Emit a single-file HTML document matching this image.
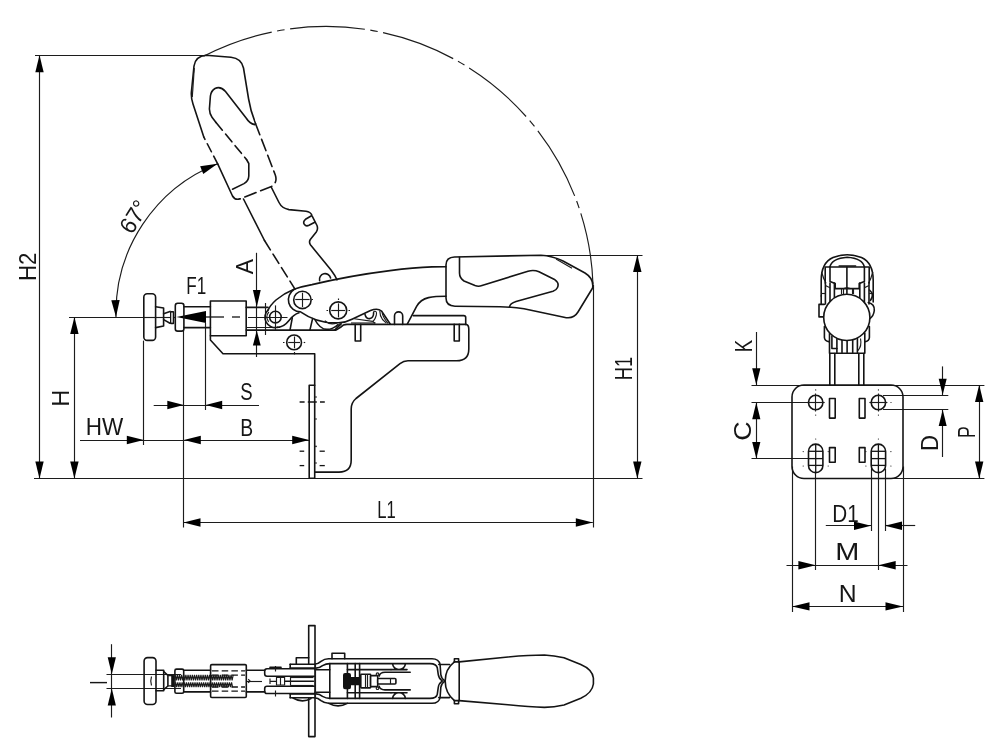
<!DOCTYPE html>
<html><head><meta charset="utf-8"><title>Clamp drawing</title>
<style>
html,body{margin:0;padding:0;background:#fff;}
body{width:1000px;height:754px;overflow:hidden;}
svg{display:block;filter:grayscale(1);}
.o{stroke:#141414;stroke-width:1.6;fill:none;stroke-linecap:round;stroke-linejoin:round;}
.of{stroke:#141414;stroke-width:1.6;fill:#fff;stroke-linecap:round;stroke-linejoin:round;}
.t{stroke:#1c1c1c;stroke-width:1.15;fill:none;}
.d{stroke:#141414;stroke-width:1.3;fill:none;}
.a{fill:#000;stroke:none;}
.k{fill:#111;stroke:none;}
text{font-family:"Liberation Sans",sans-serif;fill:#161616;}
</style></head><body>
<svg width="1000" height="754" viewBox="0 0 1000 754">
<rect x="0" y="0" width="1000" height="754" fill="#fff"/>
<g id="dims-main">
<line class="t" x1="35.00" y1="55.50" x2="203.00" y2="55.50"/>
<line class="t" x1="39.50" y1="55.50" x2="39.50" y2="478.40"/>
<polygon class="a" points="39.50,55.30 43.70,72.30 35.30,72.30"/>
<polygon class="a" points="39.50,478.40 35.30,461.40 43.70,461.40"/>
<text x="35.60" y="266.75" font-size="23.6" text-anchor="middle" transform="rotate(-90 35.60 266.75)" textLength="28.6" lengthAdjust="spacingAndGlyphs">H2</text>
<line class="t" x1="34.00" y1="478.50" x2="642.50" y2="478.50"/>
<line class="t" x1="69.00" y1="317.50" x2="144.00" y2="317.50"/>
<line class="t" x1="74.50" y1="317.00" x2="74.50" y2="478.40"/>
<polygon class="a" points="74.40,317.00 78.60,334.00 70.20,334.00"/>
<polygon class="a" points="74.40,478.40 70.20,461.40 78.60,461.40"/>
<text x="69.40" y="398.25" font-size="23.6" text-anchor="middle" transform="rotate(-90 69.40 398.25)" textLength="17.0" lengthAdjust="spacingAndGlyphs">H</text>
<line class="t" x1="80.00" y1="440.50" x2="309.20" y2="440.50"/>
<polygon class="a" points="143.80,440.00 126.80,444.20 126.80,435.80"/>
<polygon class="a" points="183.80,440.00 200.80,435.80 200.80,444.20"/>
<polygon class="a" points="309.20,440.00 292.20,444.20 292.20,435.80"/>
<text x="104.50" y="435.25" font-size="23.6" text-anchor="middle" textLength="37.5" lengthAdjust="spacingAndGlyphs">HW</text>
<text x="246.80" y="435.70" font-size="23.6" text-anchor="middle" textLength="12.9" lengthAdjust="spacingAndGlyphs">B</text>
<line class="t" x1="143.50" y1="340.60" x2="143.50" y2="445.00"/>
<line class="t" x1="183.50" y1="331.00" x2="183.50" y2="527.50"/>
<line class="t" x1="153.70" y1="405.50" x2="259.00" y2="405.50"/>
<polygon class="a" points="183.80,405.00 167.30,409.20 167.30,400.80"/>
<polygon class="a" points="205.70,405.00 222.20,400.80 222.20,409.20"/>
<text x="246.55" y="400.40" font-size="23.6" text-anchor="middle" textLength="12.4" lengthAdjust="spacingAndGlyphs">S</text>
<line class="t" x1="205.50" y1="323.00" x2="205.50" y2="410.00"/>
<line class="t" x1="183.50" y1="522.50" x2="592.80" y2="522.50"/>
<polygon class="a" points="183.50,522.50 200.50,518.30 200.50,526.70"/>
<polygon class="a" points="592.80,522.50 575.80,526.70 575.80,518.30"/>
<text x="386.45" y="517.90" font-size="23.6" text-anchor="middle" textLength="18.5" lengthAdjust="spacingAndGlyphs">L1</text>
<line class="t" x1="593.50" y1="285.00" x2="593.50" y2="527.50"/>
<line class="t" x1="545.00" y1="255.50" x2="642.50" y2="255.50"/>
<line class="t" x1="637.50" y1="255.00" x2="637.50" y2="478.40"/>
<polygon class="a" points="637.30,255.00 641.50,272.00 633.10,272.00"/>
<polygon class="a" points="637.30,478.40 633.10,461.40 641.50,461.40"/>
<text x="632.50" y="368.45" font-size="23.6" text-anchor="middle" transform="rotate(-90 632.50 368.45)" textLength="23.6" lengthAdjust="spacingAndGlyphs">H1</text>
<line class="t" x1="256.50" y1="252.80" x2="256.50" y2="357.00"/>
<polygon class="a" points="256.80,307.00 252.90,290.00 260.70,290.00"/>
<polygon class="a" points="256.80,330.40 260.70,345.40 252.90,345.40"/>
<text x="252.80" y="266.60" font-size="23.6" text-anchor="middle" transform="rotate(-90 252.80 266.60)" textLength="15.2" lengthAdjust="spacingAndGlyphs">A</text>
<text x="196.25" y="293.50" font-size="23.6" text-anchor="middle" textLength="20.0" lengthAdjust="spacingAndGlyphs">F1</text>
<polygon class="a" points="176.4,317 206,311 206,323"/>
<path class="t" d="M116,317 A160.5,160.5 0 0 1 217.5,163.8"/>
<polygon class="a" points="116.00,317.00 111.29,300.13 119.69,299.88"/>
<polygon class="a" points="217.50,163.80 203.26,173.99 200.15,166.18"/>
<text x="140.90" y="221.00" font-size="23.6" text-anchor="middle" transform="rotate(-58 140.90 221.00)" textLength="33.5" lengthAdjust="spacingAndGlyphs">67°</text>
<path class="t" d="M203.5,56.3 A267,267 0 0 1 593,284.5" stroke-dasharray="75 5.5 7.5 5.5" stroke-dashoffset="2.25"/>
</g>
<g id="clamp">
<line class="t" x1="144.00" y1="317.50" x2="176.00" y2="317.50"/>
<line class="d" x1="206.00" y1="317.00" x2="224.00" y2="317.00"/>
<line class="d" x1="232.00" y1="317.00" x2="240.00" y2="317.00"/>
<line class="t" x1="248.00" y1="317.50" x2="287.50" y2="317.50"/>
<rect class="o" x="143.80" y="293.80" width="11.80" height="46.60" rx="3.40"/>
<path class="o" d="M155.6,306.8 L163.6,308 V326 L155.6,327.6"/>
<path class="o" d="M163.6,313.8 L170,311.4 M163.6,319.6 L170,323.2"/>
<rect class="k" x="170.00" y="310.90" width="4.20" height="13.40" rx="1.00"/>
<rect x="171.3" y="312.6" width="1.4" height="10" fill="#fff"/>
<rect class="o" x="175.30" y="303.30" width="8.60" height="27.80" rx="2.40"/>
<line class="o" x1="184.00" y1="306.80" x2="210.40" y2="306.80" stroke-width="2"/>
<line class="o" x1="184.00" y1="327.60" x2="210.40" y2="327.60" stroke-width="2"/>
<rect class="o" x="210.40" y="301.00" width="35.80" height="34.80" rx="0.00"/>
<line class="o" x1="246.20" y1="307.40" x2="268.00" y2="307.40"/>
<line class="t" x1="246.20" y1="327.50" x2="280.00" y2="327.50"/>
<line class="t" x1="265.50" y1="303.00" x2="265.50" y2="335.00"/>
<path class="o" d="M210.4,335.8 V340 L223,353.7 H314.7 V385.2"/>
<path class="o" d="M246.2,330.1 H336 L341,327 Q343,324.4 347,324.4 H465.7"/>
<path class="o" d="M309.2,385.2 H314.7 V478.3 H309.2 Z"/>
<line class="d" x1="299.60" y1="402.00" x2="324.80" y2="402.00" stroke-dasharray="5 3.2 9 3.2 5"/>
<line class="d" x1="299.60" y1="451.20" x2="304.20" y2="451.20"/>
<line class="d" x1="319.60" y1="451.20" x2="324.80" y2="451.20"/>
<line class="d" x1="299.60" y1="465.60" x2="304.20" y2="465.60"/>
<line class="d" x1="319.60" y1="465.60" x2="324.80" y2="465.60"/>
<circle class="k" cx="316" cy="397.0" r="0.8"/>
<circle class="k" cx="316" cy="419.0" r="0.8"/>
<circle class="k" cx="316" cy="446.4" r="0.8"/>
<circle class="k" cx="316" cy="463.0" r="0.8"/>
<path class="o" d="M465.7,324.4 Q468.8,324.6 468.8,329 V349 Q468.8,360.8 456.5,360.8 H408 Q403.5,360.8 400,363.6 L356,398.5 Q351.2,402.5 351.2,409 V460 Q351.2,472.1 339,472.1 H314.7"/>
<path class="o" d="M413.2,315.6 H463.7 Q465.7,315.6 465.7,317.6 V324.4"/>
<path class="o" d="M355.2,324.4 V341 H360.7 V324.4"/>
<path class="o" d="M454.2,324.4 V341 H459.3 V324.4"/>
<path class="o" d="M394.5,324.4 V316 A4.1,4.1 0 0 1 402.7,316 V324.4"/>
<circle class="o" cx="294.10" cy="342.40" r="7.40"/>
<line class="t" x1="288.20" y1="342.50" x2="300.00" y2="342.50"/>
<line class="t" x1="294.50" y1="336.50" x2="294.50" y2="348.30"/>
<line class="t" x1="283.00" y1="342.50" x2="284.50" y2="342.50"/>
<line class="t" x1="303.70" y1="342.50" x2="305.20" y2="342.50"/>
<line class="t" x1="294.50" y1="352.00" x2="294.50" y2="354.50"/>
<circle class="o" cx="275.40" cy="317.10" r="5.80"/>
<path class="o" d="M268.2,309.9 A10.2,10.2 0 0 0 277.5,327.3"/>
<path class="t" d="M268.9,311.9 A8.3,8.3 0 0 0 268.6,321.9"/>
<line class="t" x1="275.50" y1="305.40" x2="275.50" y2="330.00"/>
<path class="o" d="M268.2,309.9 Q270,305.5 276,300 Q284,293.4 294,289.3 Q302,286.4 312,284.6 Q350,275.6 390,270.6 Q414,267.6 432,266.9 L446,266.8"/>
<path class="o" d="M407.3,324.2 L416.6,306.4 Q420.4,299.6 428.5,297.6 Q435,296.3 446,296.3"/>
<circle class="o" cx="302.40" cy="299.90" r="8.70"/>
<line class="t" x1="295.20" y1="299.50" x2="309.60" y2="299.50"/>
<line class="t" x1="302.50" y1="292.70" x2="302.50" y2="307.10"/>
<path class="o" d="M294.3,289.3 A12.1,12.1 0 0 0 300.5,311.8 Q318,324 338.5,322.8 Q346,322.4 352,319.2 L370.5,310.6 Q377.5,307.6 381.5,311 L390.2,324"/>
<line class="t" x1="311.50" y1="299.50" x2="313.00" y2="299.50"/>
<circle class="o" cx="338.20" cy="310.40" r="8.50"/>
<line class="t" x1="331.20" y1="310.50" x2="345.20" y2="310.50"/>
<line class="t" x1="338.50" y1="303.40" x2="338.50" y2="317.40"/>
<line class="t" x1="326.50" y1="310.50" x2="328.00" y2="310.50"/>
<line class="t" x1="348.50" y1="310.50" x2="350.00" y2="310.50"/>
<line class="t" x1="338.50" y1="298.50" x2="338.50" y2="300.00"/>
<path class="o" d="M277.5,327.4 Q284,327 289,320.5 Q293.5,314.5 299,312.8"/>
<line class="o" x1="292.30" y1="317.80" x2="290.00" y2="330.10"/>
<line class="o" x1="312.60" y1="318.60" x2="309.90" y2="330.10"/>
<path class="o" d="M314.8,319.5 Q320,329.4 327,329.4 Q333,329.4 338,324.5"/>
<path class="t" d="M324.7,320.8 Q330,325.5 337,322.9"/>
<path class="o" d="M334.6,330.1 L341.2,323.8"/>
<path class="o" d="M365,314.3 Q366,319 370,318.6 Q373.8,317.6 373.6,312.6"/>
<path class="t" d="M373.4,311.6 Q377.4,310.2 376.3,315 Q375,320 372.6,321.4 L375.2,323.2"/>
<path class="t" d="M354.2,318.7 L372.6,321.4"/>
<path class="t" d="M351,323 H375.4"/>
<path class="t" d="M379.8,311 Q379.8,316 382.5,319.5 L386.4,323.2"/>
<path class="t" d="M382.2,313 Q382.8,317 388,323.4"/>
<path class="t" d="M335,327 Q338.5,326.2 340.6,323"/>
<path class="o" d="M446,265 Q446,257.3 454.5,257 L541,255.2 Q552,255.6 563,261 L585,273 Q594,278.5 592.6,288 L578,312 Q573.5,319.5 564,317.2 L524,308.8 Q514,307 500,306.8 L455,306.2 Q446,306 446,298 Z"/>
<path class="o" d="M459.5,257.2 V273 Q459.5,278 464,281 L475,285.6 Q478.5,286.8 482,285.6 L528,271.2 Q534,269.6 539,271.8 L555,279.8 Q559.5,283 557.5,287.5 Q556.5,290 553,291.2 L516,301.6 Q510,303.5 509.5,307"/>
<path class="t" d="M556,259 L572,268.2"/>
<path class="o" d="M217.8,164.2 L232.5,196 Q235,200.5 240,198.8"/>
<path class="o" d="M203.8,137 L193,104 Q190.6,97 191.6,90 L194,66 Q195.5,56 206,55.2 L231,57.2 Q241.5,58.3 243.5,68 L248.6,99 Q250.5,111 255.5,123.5"/>
<path class="t" d="M194.3,68 L192.3,97"/>
<path class="o" d="M217.8,164.2 L203.8,137" stroke-dasharray="9 5"/>
<path class="o" d="M255.5,123.5 L275.3,175 Q277.8,182.5 271.5,186.5 L240,198.8" stroke-dasharray="12 5"/>
<path class="o" d="M254.8,124.6 Q249.5,123.5 246.5,118.5 L225.5,91.5 Q220.5,85.8 215,88.5 Q211,91 210.4,96 L209.4,109 Q209.6,114 212,117.2 L216,122.5"/>
<path class="o" d="M216,122.5 L246.5,159.5" stroke-dasharray="10 5"/>
<path class="o" d="M246.5,159.5 L248.8,163.5 V176 Q248.6,181 244,183.6 L232.5,189.2"/>
<path class="o" d="M271.2,187 L279,202.5 Q282,208.5 289,209.6 L306,211.2 Q310.5,211.8 311.8,215"/>
<path class="o" d="M311.5,215.8 L305.5,219.3 Q302.6,221.6 304.3,224.3 Q306,226.8 309,225.3 L314.8,222.2"/>
<path class="o" d="M312.3,216.3 L317,225.5 Q318.3,229 316.3,232 L310.3,239.5 Q308.6,242.2 310.6,245 L331,270 Q335,275.3 337,279.8"/>
<path class="o" d="M319.6,280.6 A5.6,5.6 0 0 1 330.6,278"/>
<path class="o" d="M243.5,199 L264.5,240.5"/>
<path class="o" d="M264.5,240.5 L295,289.2" stroke-dasharray="11 5"/>
</g>
<g id="right-view">
<line class="t" x1="751.50" y1="385.50" x2="984.40" y2="385.50"/>
<line class="t" x1="890.00" y1="478.50" x2="984.40" y2="478.50"/>
<line class="t" x1="751.50" y1="402.50" x2="808.50" y2="402.50"/>
<line class="t" x1="751.50" y1="458.50" x2="808.50" y2="458.50"/>
<line class="t" x1="756.50" y1="332.00" x2="756.50" y2="385.00"/>
<polygon class="a" points="756.30,385.00 752.20,368.30 760.40,368.30"/>
<line class="t" x1="756.50" y1="402.50" x2="756.50" y2="458.60"/>
<polygon class="a" points="756.30,402.50 760.40,419.20 752.20,419.20"/>
<polygon class="a" points="756.30,458.60 752.20,441.90 760.40,441.90"/>
<text x="751.80" y="346.00" font-size="23.6" text-anchor="middle" transform="rotate(-90 751.80 346.00)" textLength="12.4" lengthAdjust="spacingAndGlyphs">K</text>
<text x="751.40" y="431.15" font-size="23.6" text-anchor="middle" transform="rotate(-90 751.40 431.15)" textLength="19.4" lengthAdjust="spacingAndGlyphs">C</text>
<line class="t" x1="883.00" y1="395.50" x2="948.30" y2="395.50"/>
<line class="t" x1="883.00" y1="409.50" x2="948.30" y2="409.50"/>
<line class="t" x1="942.50" y1="366.40" x2="942.50" y2="395.30"/>
<line class="t" x1="942.50" y1="409.30" x2="942.50" y2="457.00"/>
<polygon class="a" points="942.70,394.80 938.70,378.80 946.70,378.80"/>
<polygon class="a" points="942.70,409.80 946.70,426.00 938.70,426.00"/>
<text x="938.00" y="442.95" font-size="23.6" text-anchor="middle" transform="rotate(-90 938.00 442.95)" textLength="16.0" lengthAdjust="spacingAndGlyphs">D</text>
<line class="t" x1="979.50" y1="385.00" x2="979.50" y2="478.50"/>
<polygon class="a" points="979.20,385.00 983.40,402.00 975.00,402.00"/>
<polygon class="a" points="979.20,478.50 975.00,461.50 983.40,461.50"/>
<text x="975.00" y="432.20" font-size="23.6" text-anchor="middle" transform="rotate(-90 975.00 432.20)" textLength="11.7" lengthAdjust="spacingAndGlyphs">P</text>
<line class="t" x1="792.50" y1="466.50" x2="792.50" y2="612.00"/>
<line class="t" x1="903.50" y1="466.50" x2="903.50" y2="612.00"/>
<line class="t" x1="815.50" y1="473.00" x2="815.50" y2="570.00"/>
<line class="t" x1="878.50" y1="473.00" x2="878.50" y2="570.00"/>
<line class="t" x1="871.50" y1="469.00" x2="871.50" y2="531.00"/>
<line class="t" x1="885.50" y1="469.00" x2="885.50" y2="531.00"/>
<line class="t" x1="825.80" y1="525.50" x2="871.00" y2="525.50"/>
<line class="t" x1="885.00" y1="525.50" x2="915.20" y2="525.50"/>
<polygon class="a" points="871.00,525.80 854.00,530.00 854.00,521.60"/>
<polygon class="a" points="885.00,525.80 902.00,521.60 902.00,530.00"/>
<text x="845.45" y="521.70" font-size="23.6" text-anchor="middle" textLength="26.5" lengthAdjust="spacingAndGlyphs">D1</text>
<line class="t" x1="786.50" y1="565.50" x2="907.50" y2="565.50"/>
<polygon class="a" points="815.70,565.20 798.40,569.40 798.40,561.00"/>
<polygon class="a" points="878.40,565.20 895.70,561.00 895.70,569.40"/>
<text x="847.40" y="560.40" font-size="23.6" text-anchor="middle" textLength="24.1" lengthAdjust="spacingAndGlyphs">M</text>
<line class="t" x1="792.00" y1="606.50" x2="903.00" y2="606.50"/>
<polygon class="a" points="792.00,606.40 809.50,602.20 809.50,610.60"/>
<polygon class="a" points="903.00,606.40 885.50,610.60 885.50,602.20"/>
<text x="847.60" y="602.10" font-size="23.6" text-anchor="middle" textLength="17.9" lengthAdjust="spacingAndGlyphs">N</text>
<rect class="o" x="792.00" y="385.00" width="111.00" height="93.50" rx="12.00"/>
<circle class="o" cx="815.70" cy="402.50" r="7.20"/>
<line class="t" x1="806.70" y1="402.50" x2="824.70" y2="402.50"/>
<line class="t" x1="815.50" y1="393.50" x2="815.50" y2="411.50"/>
<path class="o" d="M808.50,451.3 A7.2,7.2 0 0 1 822.90,451.3 V465.4 A7.2,7.2 0 0 1 808.50,465.4 Z"/>
<line class="d" x1="815.70" y1="444.00" x2="815.70" y2="472.60"/>
<line class="d" x1="808.50" y1="451.30" x2="822.90" y2="451.30"/>
<line class="d" x1="808.50" y1="458.60" x2="822.90" y2="458.60"/>
<line class="d" x1="808.50" y1="465.40" x2="822.90" y2="465.40"/>
<circle class="k" cx="815.70" cy="389.90" r="0.6"/>
<circle class="k" cx="815.70" cy="415.10" r="0.6"/>
<circle class="k" cx="815.70" cy="439.00" r="0.6"/>
<circle class="o" cx="878.40" cy="402.50" r="7.20"/>
<line class="t" x1="869.40" y1="402.50" x2="887.40" y2="402.50"/>
<line class="t" x1="878.50" y1="393.50" x2="878.50" y2="411.50"/>
<path class="o" d="M871.20,451.3 A7.2,7.2 0 0 1 885.60,451.3 V465.4 A7.2,7.2 0 0 1 871.20,465.4 Z"/>
<line class="d" x1="878.40" y1="444.00" x2="878.40" y2="472.60"/>
<line class="d" x1="871.20" y1="451.30" x2="885.60" y2="451.30"/>
<line class="d" x1="871.20" y1="458.60" x2="885.60" y2="458.60"/>
<line class="d" x1="871.20" y1="465.40" x2="885.60" y2="465.40"/>
<circle class="k" cx="878.40" cy="389.90" r="0.6"/>
<circle class="k" cx="878.40" cy="415.10" r="0.6"/>
<circle class="k" cx="878.40" cy="439.00" r="0.6"/>
<circle class="k" cx="803.20" cy="451.60" r="0.6"/>
<circle class="k" cx="865.90" cy="451.60" r="0.6"/>
<circle class="k" cx="803.20" cy="466.00" r="0.6"/>
<circle class="k" cx="865.90" cy="466.00" r="0.6"/>
<circle class="k" cx="828.20" cy="451.60" r="0.6"/>
<circle class="k" cx="890.90" cy="451.60" r="0.6"/>
<circle class="k" cx="828.20" cy="466.00" r="0.6"/>
<circle class="k" cx="890.90" cy="466.00" r="0.6"/>
<circle class="k" cx="891" cy="402.5" r="0.6"/>
<rect class="o" x="829.50" y="398.50" width="5.70" height="19.60" rx="0.00"/>
<rect class="o" x="859.30" y="398.50" width="5.70" height="19.60" rx="0.00"/>
<rect class="o" x="829.50" y="447.60" width="5.70" height="14.60" rx="0.00"/>
<rect class="o" x="859.30" y="447.60" width="5.70" height="14.60" rx="0.00"/>
<line class="o" x1="829.80" y1="353.50" x2="829.80" y2="385.00"/>
<line class="o" x1="834.80" y1="353.50" x2="834.80" y2="385.00"/>
<line class="o" x1="858.80" y1="353.50" x2="858.80" y2="385.00"/>
<line class="o" x1="863.80" y1="353.50" x2="863.80" y2="385.00"/>
</g>
<g id="right-handle">
<path class="o" d="M821.2,296 V281 Q821,263 833,257.6 Q847,252 861.5,257.6 Q873.4,263 873.2,281 V296"/>
<path class="o" d="M829.8,267 Q832,258.3 847.2,257.2 Q862.5,258.3 864.4,267"/>
<path class="t" d="M821.6,272 Q823.5,279 826,283"/>
<path class="t" d="M872.8,272 Q871,279 868.6,283"/>
<path class="o" d="M825.2,283 V267 H869.2 V283"/>
<line class="o" x1="839.20" y1="266.00" x2="855.60" y2="266.00" stroke-width="2"/>
<path class="o" d="M830,267 V281.5 L835.2,283.6 V288.6 H859.2 V283.6 L864.4,281.5 V267"/>
<line class="o" x1="846.90" y1="267.00" x2="846.90" y2="293.50"/>
<path class="t" d="M843.5,288.6 L846.9,287.6 L850.3,288.6"/>
<line class="t" x1="841.50" y1="288.60" x2="841.50" y2="294.00"/>
<line class="t" x1="843.50" y1="288.60" x2="843.50" y2="294.00"/>
<line class="t" x1="852.50" y1="288.60" x2="852.50" y2="294.00"/>
<line class="t" x1="853.50" y1="288.60" x2="853.50" y2="294.00"/>
<line class="o" x1="825.40" y1="283.00" x2="825.40" y2="304.00"/>
<line class="o" x1="830.00" y1="283.00" x2="830.00" y2="304.00"/>
<line class="o" x1="834.40" y1="283.00" x2="834.40" y2="304.00"/>
<line class="o" x1="859.80" y1="283.00" x2="859.80" y2="304.00"/>
<line class="o" x1="864.40" y1="283.00" x2="864.40" y2="304.00"/>
<line class="o" x1="869.00" y1="283.00" x2="869.00" y2="304.00"/>
<line class="o" x1="821.20" y1="296.00" x2="821.20" y2="304.00"/>
<line class="o" x1="873.20" y1="296.00" x2="873.20" y2="302.00"/>
<path class="t" d="M825.4,285.5 L830,287.8"/>
<path class="t" d="M869,285.5 L864.4,287.8"/>
<path class="t" d="M821.2,293.5 H825.4"/>
<path class="t" d="M873.2,293.5 H869"/>
<path class="o" d="M869.5,290 Q874.8,294.5 870.4,300.5"/>
<path class="o" d="M868.3,302.5 Q874.8,304 874.3,310.5 Q873.6,316 870,318.5"/>
<path class="o" d="M824.3,304.4 H819 V316.9 H823.8"/>
<path class="o" d="M824.4,326.5 V337.5 Q824.6,341 828.8,341.6"/>
<path class="o" d="M869.4,326.5 V337.5 Q869.2,341 865.4,341.6"/>
<path class="o" d="M829.5,333 V353.2 H864.8 V333"/>
<path class="o" d="M831.9,336 V348.5 H836.9"/>
<line class="o" x1="836.90" y1="338.00" x2="836.90" y2="352.40"/>
<line class="o" x1="842.00" y1="338.00" x2="842.00" y2="352.40"/>
<line class="o" x1="847.10" y1="338.00" x2="847.10" y2="352.40"/>
<line class="o" x1="852.70" y1="338.00" x2="852.70" y2="352.40"/>
<line class="o" x1="857.40" y1="338.00" x2="857.40" y2="352.40"/>
<path class="t" d="M860.5,338.5 Q862,346 858,350.5"/>
<circle class="of" cx="846.80" cy="317.40" r="23.10"/>
</g>
<g id="plan-view">
<line class="t" x1="111.50" y1="644.20" x2="111.50" y2="717.50"/>
<polygon class="a" points="111.80,674.20 107.70,657.20 115.90,657.20"/>
<polygon class="a" points="111.80,688.40 115.90,705.40 107.70,705.40"/>
<line class="t" x1="106.50" y1="674.50" x2="181.00" y2="674.50"/>
<line class="t" x1="106.50" y1="688.50" x2="181.00" y2="688.50"/>
<text x="107.20" y="682.50" font-size="23.6" text-anchor="middle" transform="rotate(-90 107.20 682.50)" textLength="4.3" lengthAdjust="spacingAndGlyphs">I</text>
<rect class="o" x="144.10" y="657.60" width="11.90" height="46.90" rx="3.50"/>
<path class="t" d="M151.5,676.5 Q150,681 151.5,685.5"/>
<path class="o" d="M156,670.2 H163.7 V690.8 H156"/>
<path class="o" d="M163.7,671.5 L167.9,675.3 V686 L163.7,689.6"/>
<path class="t" d="M167.9,675.6 H172 M167.9,685.8 H172"/>
<rect class="o" x="174.90" y="669.10" width="8.80" height="24.20" rx="1.60"/>
<line class="o" x1="183.70" y1="670.20" x2="210.60" y2="670.20"/>
<line class="o" x1="183.70" y1="691.90" x2="210.60" y2="691.90"/>
<line class="o" x1="246.30" y1="670.20" x2="264.70" y2="670.20"/>
<line class="o" x1="246.30" y1="691.90" x2="264.70" y2="691.90"/>
<path class="t" d="M173.00,674.80 L174.07,680.40 L175.15,674.80 L176.22,680.40 L177.30,674.80 L178.37,680.40 L179.45,674.80 L180.52,680.40 L181.60,674.80 L182.67,680.40 L183.75,674.80 L184.82,680.40 L185.90,674.80 L186.97,680.40 L188.05,674.80 L189.12,680.40 L190.20,674.80 L191.27,680.40 L192.35,674.80 L193.42,680.40 L194.50,674.80 L195.57,680.40 L196.65,674.80 L197.72,680.40 L198.80,674.80 L199.87,680.40 L200.95,674.80 L202.02,680.40 L203.10,674.80 L204.17,680.40 L205.25,674.80 L206.32,680.40 L207.40,674.80 L208.47,680.40 L209.55,674.80 L210.62,680.40 L211.70,674.80 L212.77,680.40 L213.85,674.80 L214.92,680.40 L216.00,674.80 L217.07,680.40 L218.15,674.80 L219.22,680.40 L220.30,674.80 L221.37,680.40 L222.45,674.80 L223.52,680.40 L224.60,674.80 L225.67,680.40 L226.75,674.80 L227.82,680.40 L228.90,674.80 L229.97,680.40 L231.05,674.80 L232.12,680.40 L233.20,674.80" stroke-width="0.8"/>
<path class="t" d="M173.50,682.40 L174.57,687.20 L175.65,682.40 L176.72,687.20 L177.80,682.40 L178.87,687.20 L179.95,682.40 L181.02,687.20 L182.10,682.40 L183.17,687.20 L184.25,682.40 L185.32,687.20 L186.40,682.40 L187.47,687.20 L188.55,682.40 L189.62,687.20 L190.70,682.40 L191.77,687.20 L192.85,682.40 L193.92,687.20 L195.00,682.40 L196.07,687.20 L197.15,682.40 L198.22,687.20 L199.30,682.40 L200.37,687.20 L201.45,682.40 L202.52,687.20 L203.60,682.40 L204.67,687.20 L205.75,682.40 L206.82,687.20 L207.90,682.40 L208.97,687.20 L210.05,682.40 L211.12,687.20 L212.20,682.40 L213.27,687.20 L214.35,682.40 L215.42,687.20 L216.50,682.40 L217.57,687.20 L218.65,682.40 L219.72,687.20 L220.80,682.40 L221.87,687.20 L222.95,682.40 L224.02,687.20 L225.10,682.40 L226.17,687.20 L227.25,682.40 L228.32,687.20 L229.40,682.40 L230.47,687.20 L231.55,682.40 L232.62,687.20" stroke-width="1.15"/>
<rect class="k" x="171.20" y="675.00" width="2.80" height="12.00" rx="0.50"/>
<rect class="o" x="210.60" y="664.60" width="35.70" height="32.90" rx="1.20"/>
<line class="d" x1="212.00" y1="670.90" x2="245.00" y2="670.90" stroke-dasharray="6.5 3.2"/>
<line class="d" x1="212.00" y1="675.10" x2="245.00" y2="675.10" stroke-dasharray="6.5 3.2"/>
<line class="d" x1="212.00" y1="687.00" x2="245.00" y2="687.00" stroke-dasharray="6.5 3.2"/>
<line class="d" x1="212.00" y1="691.20" x2="245.00" y2="691.20" stroke-dasharray="6.5 3.2"/>
<line class="t" x1="247.00" y1="681.50" x2="262.00" y2="681.50"/>
<path class="t" d="M248.2,679.2 L250,681 L248.2,682.8"/>
<path class="o" d="M314.4,668.7 H267 Q264.7,668.7 264.7,671 V674 Q264.7,676.2 267,676.2 H314.4"/>
<path class="o" d="M314.4,686.2 H267 Q264.7,686.2 264.7,688.4 V691.2 Q264.7,693.5 267,693.5 H314.4"/>
<line class="t" x1="290.20" y1="677.50" x2="313.50" y2="677.50"/>
<line class="o" x1="284.80" y1="681.30" x2="313.50" y2="681.30"/>
<line class="t" x1="290.20" y1="685.50" x2="313.50" y2="685.50"/>
<line class="t" x1="290.50" y1="677.00" x2="290.50" y2="685.20"/>
<path class="t" d="M270,678.5 V684 M270,681.3 H276 M276.5,677.5 V685 H284.6 V677.5 Z M280.5,677.5 V685"/>
<line class="t" x1="275.50" y1="666.00" x2="275.50" y2="671.50"/>
<line class="t" x1="275.50" y1="690.50" x2="275.50" y2="696.50"/>
<path class="o" d="M270,667.4 H281"/>
<path class="o" d="M290.2,664.20 H314.4 Q318,664.20 321,661.40 Q324.5,658.80 328.5,658.80 H432 Q439,658.80 440.1,664.70 L440.8,674.50 Q441.4,678.80 444.7,680.60"/>
<path class="o" d="M290.2,668.10 H316 Q319.5,668.10 322.5,665.60 Q326,663.60 330,663.60 H430 Q436.3,663.60 437.3,667.80 L438.2,674.10 Q438.8,678.40 441.6,680.30"/>
<line class="o" x1="290.20" y1="664.20" x2="290.20" y2="668.10"/>
<line class="o" x1="315.00" y1="669.80" x2="329.80" y2="669.80"/>
<path class="o" d="M290.2,697.80 H314.4 Q318,697.80 321,700.60 Q324.5,703.20 328.5,703.20 H432 Q439,703.20 440.1,697.30 L440.8,687.50 Q441.4,683.20 444.7,681.40"/>
<path class="o" d="M290.2,693.90 H316 Q319.5,693.90 322.5,696.40 Q326,698.40 330,698.40 H430 Q436.3,698.40 437.3,694.20 L438.2,687.90 Q438.8,683.60 441.6,681.70"/>
<line class="o" x1="290.20" y1="697.80" x2="290.20" y2="693.90"/>
<line class="o" x1="315.00" y1="692.20" x2="329.80" y2="692.20"/>
<path class="t" d="M442,680 Q444.4,681 442,682"/>
<path class="o" d="M296.3,664.2 V657.7 H308.7"/>
<path class="o" d="M332,658.8 V653.3 H344.7 V658.8"/>
<path class="o" d="M293,698 Q302,703.4 311,698.6"/>
<path class="o" d="M328.7,703.4 Q338,708.4 347.4,703.4"/>
<path class="o" d="M308.7,664 V625.6 H315 V736.6 H308.7 V698.5"/>
<line class="t" x1="315.50" y1="664.00" x2="315.50" y2="698.00"/>
<line class="o" x1="329.80" y1="663.60" x2="329.80" y2="698.40"/>
<line class="o" x1="347.40" y1="663.60" x2="347.40" y2="698.40"/>
<line class="o" x1="355.20" y1="663.60" x2="355.20" y2="698.40"/>
<line class="o" x1="359.60" y1="663.60" x2="359.60" y2="698.40"/>
<line class="o" x1="347.40" y1="669.60" x2="391.00" y2="669.60"/>
<line class="o" x1="347.40" y1="692.80" x2="391.00" y2="692.80"/>
<path class="k" d="M345,673 H349 Q351,673 351,675 V677 H360.8 V685.3 H351 V687.2 Q351,689.2 349,689.2 H345 Q343,689.2 343,687 V675 Q343,673 345,673 Z"/>
<rect class="of" x="360.80" y="674.30" width="9.80" height="13.60" rx="0.60"/>
<line class="t" x1="365.50" y1="674.30" x2="365.50" y2="687.90"/>
<line class="t" x1="367.50" y1="674.30" x2="367.50" y2="687.90"/>
<rect class="of" x="370.60" y="675.60" width="7.10" height="11.00" rx="0.60"/>
<rect class="of" x="377.70" y="678.50" width="18.20" height="5.50" rx="1.00"/>
<line class="t" x1="390.50" y1="678.50" x2="390.50" y2="684.00"/>
<circle class="t" cx="377.50" cy="674.20" r="1.30"/>
<circle class="t" cx="377.50" cy="688.20" r="1.30"/>
<path class=" o" d="M410.2,672.3 H385 Q380,672.5 379.2,676 M379.2,686.4 Q380,689.7 385,689.9 H410.2" stroke-width="1.6"/>
<path class="o" d="M392.7,663.9 A6.3,5.6 0 0 0 405.3,663.9 M391,669.6 H407"/>
<path class="o" d="M392.7,698.4 A6.3,5.6 0 0 1 405.3,698.4 M391,692.8 H407"/>
<line class="o" x1="438.80" y1="664.50" x2="449.50" y2="664.50"/>
<line class="o" x1="438.80" y1="697.60" x2="449.50" y2="697.60"/>
<path class="o" d="M454.4,661.9 Q445.2,669 445.2,681 Q445.2,693 454.4,700.6"/>
<path class="o" d="M454.4,661.9 V658.7 H458.6 V661.9 M454.4,700.6 V703.8 H458.6 V700.6"/>
<line class="o" x1="459.20" y1="661.60" x2="459.20" y2="700.80"/>
<path class="o" d="M454.4,661.9 H459.2 L508,657 Q530,655 544.4,655 Q554,655.4 564,657.8 L580.8,664.6 Q592.2,669.5 593.4,678 V684 Q592.2,693 580.8,698.2 L564,705 Q554,707.2 544.4,707.4 Q530,707 508,704.8 L459.2,700.6 H454.4"/>
</g>
</svg>
</body></html>
